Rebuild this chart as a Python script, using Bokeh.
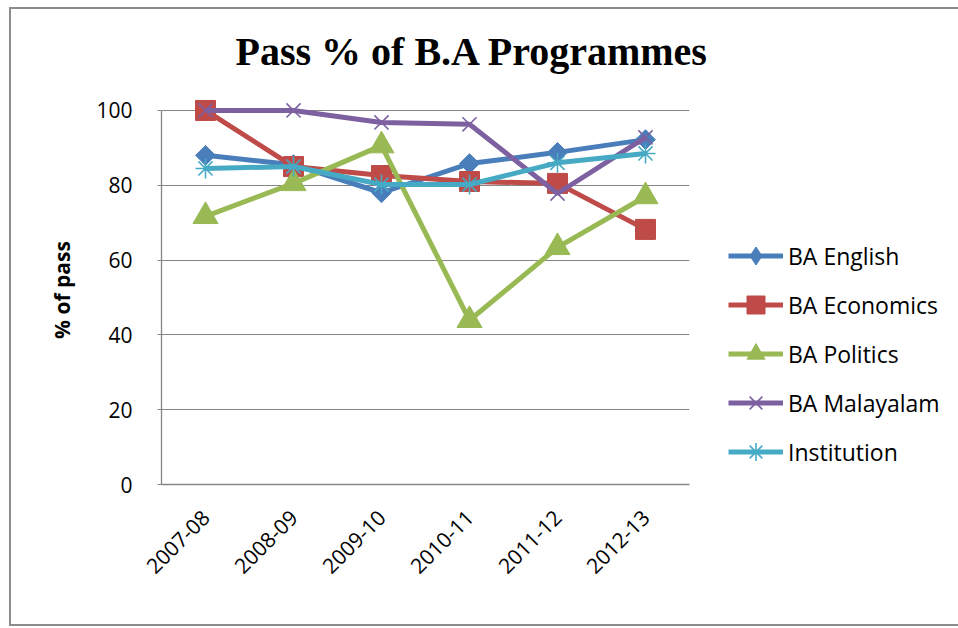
import math
from bokeh.plotting import figure
from bokeh.layouts import row
from bokeh.models import Range1d, FactorRange, Legend, LegendItem, FixedTicker
from bokeh.embed import file_html
from bokeh.resources import INLINE

# ---------------- data ----------------
years = ["2007-08", "2008-09", "2009-10", "2010-11", "2011-12", "2012-13"]
ba_english = [88.0, 85.5, 78.0, 85.8, 88.8, 92.2]
ba_economics = [100.0, 85.0, 82.6, 81.0, 80.5, 68.2]
ba_politics = [71.7, 80.5, 90.6, 43.9, 63.4, 77.0]
ba_malayalam = [100.0, 100.0, 96.8, 96.3, 77.8, 92.8]
institution = [84.5, 85.0, 80.2, 80.2, 86.0, 88.5]
series_names = ["BA English", "BA Economics", "BA Politics", "BA Malayalam", "Institution"]
y_ticks = [0, 20, 40, 60, 80, 100]
title_text = "Pass % of B.A Programmes"
y_label = "% of pass"

series_values = [ba_english, ba_economics, ba_politics, ba_malayalam, institution]
colors = ["#4A7EBB", "#BE4B48", "#98B954", "#7D60A0", "#46AAC5"]
markers = [
    dict(marker="square", size=14, angle=math.pi / 4, line_width=1, legend_marker="diamond"),
    dict(marker="square", size=20, angle=0, line_width=1, legend_marker="square"),
    dict(marker="triangle", size=25, angle=0, line_width=1, legend_marker="triangle"),
    dict(marker="x", size=20, angle=0, line_width=1.6, legend_marker="x"),
    dict(marker="asterisk", size=20, angle=0, line_width=1.6, legend_marker="asterisk"),
]

# ---------------- main chart ----------------
p = figure(
    x_range=FactorRange(factors=years),
    y_range=Range1d(0, 104),
    width=720, height=626,
    output_backend="svg", toolbar_location=None,
    min_border_left=161, min_border_right=31,
    min_border_top=95, min_border_bottom=142,
    title=title_text,
)
p.outline_line_color = None
p.background_fill_color = "white"
p.border_fill_color = None

p.title.align = "left"
p.title.offset = 74
p.title.text_font = "Liberation Serif"
p.title.text_font_style = "bold"
p.title.text_font_size = "40px"
p.title.text_color = "#000000"
p.title.standoff = 43

grid_col = "#868686"
p.xgrid.grid_line_color = None
p.ygrid.grid_line_color = grid_col
p.ygrid.grid_line_width = 1
p.yaxis.ticker = FixedTicker(ticks=y_ticks)
p.yaxis.bounds = (0, 100)
for ax in (p.xaxis[0], p.yaxis[0]):
    ax.axis_line_color = grid_col
    ax.axis_line_width = 1.3
    ax.major_tick_line_color = grid_col
    ax.minor_tick_line_color = None
    ax.major_label_text_font = "Open Sans"
    ax.major_label_text_color = "#000000"
    ax.major_label_text_font_size = "21px"

p.yaxis.major_tick_in = 0
p.yaxis.major_tick_out = 4
p.yaxis.major_label_standoff = 25
p.yaxis.axis_label = y_label
p.yaxis.axis_label_text_font = "Open Sans"
p.yaxis.axis_label_text_font_style = "bold"
p.yaxis.axis_label_text_font_size = "21px"
p.yaxis.axis_label_text_color = "#000000"
p.yaxis.axis_label_standoff = 17

p.xaxis.major_tick_in = 0
p.xaxis.major_tick_out = 0
p.xaxis.major_label_orientation = math.pi / 4
p.xaxis.major_label_standoff = 29

for vals, col, mk in zip(series_values, colors, markers):
    p.line(years, vals, line_color=col, line_width=5)
    p.scatter(years, vals, marker=mk["marker"], size=mk["size"], angle=mk["angle"],
              fill_color=col, line_color=col, line_width=mk["line_width"])

# ---------------- legend panel ----------------
lf = figure(
    x_range=FactorRange(factors=years),
    y_range=Range1d(1000, 1100),  # data kept out of view: only legend glyphs show
    width=238, height=626,
    output_backend="svg", toolbar_location=None,
    x_axis_location=None, y_axis_location=None,
    min_border=0,
)
lf.grid.visible = False
lf.outline_line_color = None
lf.background_fill_color = None
lf.border_fill_color = None

items = []
for name, vals, col, mk in zip(series_names, series_values, colors, markers):
    r_line = lf.line(years, vals, line_color=col, line_width=5)
    r_mark = lf.scatter(years, vals, marker=mk["legend_marker"], size=mk["size"],
                        fill_color=col, line_color=col, line_width=mk["line_width"])
    items.append(LegendItem(label=name, renderers=[r_line, r_mark]))

legend = Legend(items=items, location=(8, 10))
legend.padding = 0
legend.margin = 0
legend.spacing = 4
legend.glyph_width = 55
legend.glyph_height = 45
legend.label_height = 45
legend.label_standoff = 5
legend.label_text_font = "Open Sans"
legend.label_text_font_size = "23px"
legend.label_text_color = "#000000"
legend.border_line_color = None
legend.background_fill_color = None
lf.add_layout(legend, "center")

layout = row(p, lf, spacing=0)
layout.styles = {
    "box-shadow": ("inset 9px 7px 0 0 white, inset 11px 9px 0 0 #8c8c8c, "
                   "inset 0 -2px 0 0 #8c8c8c"),
    "background": "white",
}

open("out.html", "w").write(file_html(layout, INLINE))
